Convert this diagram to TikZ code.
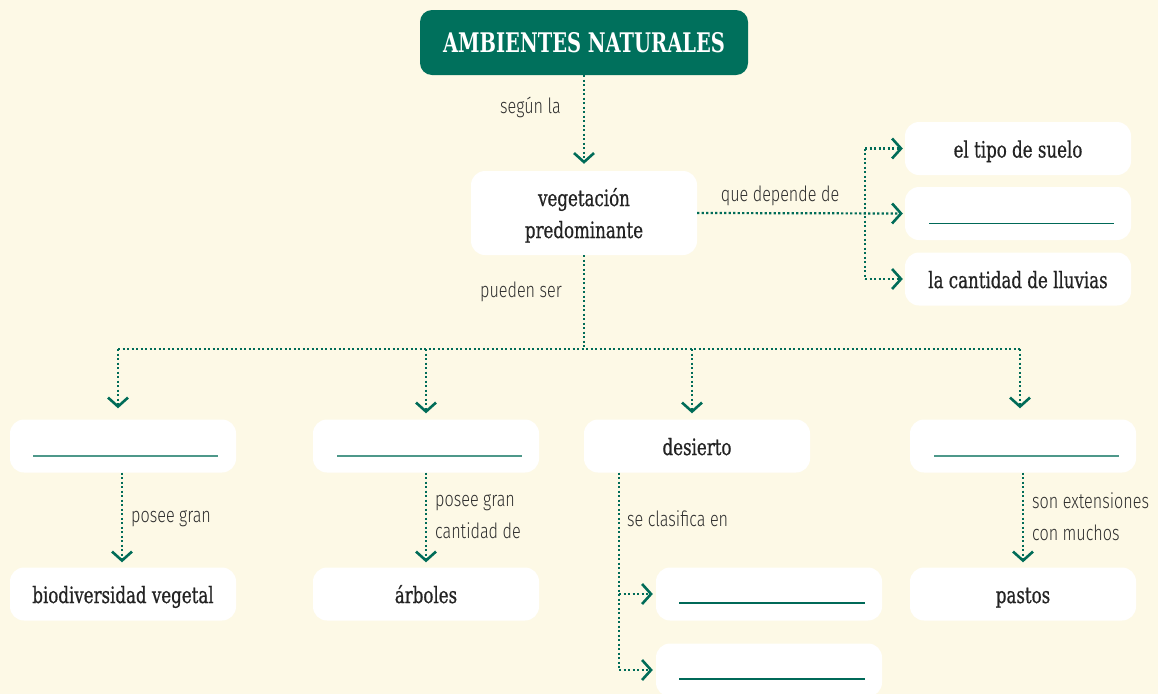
\documentclass[tikz,border=0pt]{standalone}
\usepackage{fontspec}
\usetikzlibrary{arrows.meta}
\newfontfamily\boxfont{DejaVu Serif}[FakeStretch=0.74,FakeBold=0.7]
\newfontfamily\titlefont{DejaVu Serif}[FakeStretch=0.72]
\newfontfamily\labfont{Fira Sans}[UprightFont={* Light},FakeStretch=0.77]
\definecolor{bg}{RGB}{253,249,230}
\definecolor{dkgreen}{RGB}{0,112,92}
\definecolor{conncol}{RGB}{0,108,88}
\definecolor{blankA}{RGB}{78,152,138}
\definecolor{blankB}{RGB}{0,105,88}
\definecolor{txt}{RGB}{35,35,35}
\definecolor{labtxt}{RGB}{45,45,45}
\tikzset{
  box/.style={fill=white, rounded corners=14pt, minimum width=226pt, minimum height=53pt,
    inner sep=0pt, font=\boxfont\fontsize{22.5}{32}\selectfont, text=txt, align=center,
    text height=22pt, text depth=4pt},
  twoline/.style={text height=, text depth=0pt},
  titlebox/.style={fill=dkgreen, rounded corners=12pt, minimum width=328pt, minimum height=65pt,
    inner sep=0pt, font=\titlefont\bfseries\fontsize{27}{30}\selectfont, text=white},
  dots/.style={draw=conncol, line width=2.2pt, dash pattern=on 2.2pt off 2.3pt},
  conn/.style={dots, -{Straight Barb[length=9pt,width=20pt,line width=2.6pt]}},
  lab/.style={font=\labfont\fontsize{21}{32}\selectfont, text=labtxt, inner sep=0pt, align=left},
  blank/.style={line width=1.6pt, draw=blankA},
  blankd/.style={line width=1.6pt, draw=blankB},
}
\begin{document}
\begin{tikzpicture}[x=1pt,y=-1pt]
\fill[bg] (0,0) rectangle (1158,694);
\useasboundingbox (0,0) rectangle (1158,694);
\begin{scope}
\clip (0,0) rectangle (1158,694);
% nodes
\node[titlebox] (title) at (584,42.5) {AMBIENTES NATURALES};
\node[box, twoline, minimum height=84pt] (veg) at (584,213) {vegetación\\predominante};
\node[box] (r1) at (1018,148.5) {el tipo de suelo};
\node[box] (r2) at (1018,213.5) {};
\node[box] (r3) at (1018,279) {la cantidad de lluvias};
\node[box] (A) at (123,446) {};
\node[box] (B) at (426,446) {};
\node[box] (C) at (697,446) {desierto};
\node[box] (D) at (1023,446) {};
\node[box] (A2) at (123,594) {biodiversidad vegetal};
\node[box] (B2) at (426,594) {árboles};
\node[box] (C2) at (769,594) {};
\node[box] (C3) at (769,670) {};
\node[box] (D2) at (1023,594) {pastos};
% blanks
\draw[blankd] ([xshift=-89pt,yshift=-10pt]r2.center) -- ([xshift=96pt,yshift=-10pt]r2.center);
\draw[blank] ([xshift=-90pt,yshift=-10pt]A.center) -- ([xshift=95pt,yshift=-10pt]A.center);
\draw[blank] ([xshift=-89pt,yshift=-10pt]B.center) -- ([xshift=96pt,yshift=-10pt]B.center);
\draw[blank] ([xshift=-89pt,yshift=-10pt]D.center) -- ([xshift=96pt,yshift=-10pt]D.center);
\draw[blankd] ([xshift=-90pt,yshift=-9pt]C2.center) -- ([xshift=96pt,yshift=-9pt]C2.center);
\draw[blankd] ([xshift=-90pt,yshift=-9pt]C3.center) -- ([xshift=96pt,yshift=-9pt]C3.center);
% connectors
\draw[conn, shorten >=7pt] (title.south) -- (veg.north);
\node[lab, anchor=east] (l1) at (561,107) {según la};
\coordinate (jr) at (865,0);
\draw[conn, shorten >=2pt] (veg.east) -- (r2.west);
\draw[dots] (jr |- r1.west) -- (jr |- r3.west);
\draw[conn, shorten >=2pt] (jr |- r1.west) -- (r1.west);
\draw[conn, shorten >=2pt] (jr |- r3.west) -- (r3.west);
\node[lab] (l2) at (780,196) {que depende de};
\coordinate (hub) at (584,349);
\draw[dots] (veg.south) -- (hub);
\node[lab] (l3) at (521,292) {pueden ser};
\coordinate (bA) at (118,349);
\coordinate (bB) at (426,349);
\coordinate (bC) at (692,349);
\coordinate (bD) at (1020,349);
\draw[dots] (bA) -- (bD);
\draw[conn, shorten >=11pt] (bA) -- (bA |- A.north);
\draw[conn, shorten >=6pt] (bB) -- (bB |- B.north);
\draw[conn, shorten >=6pt] (bC) -- (bC |- C.north);
\draw[conn, shorten >=11pt] (bD) -- (bD |- D.north);
% second level
\draw[conn, shorten >=5pt] ([xshift=-1pt]A.south) -- ([xshift=-1pt]A2.north);
\node[lab, anchor=west] (l4) at (131,519) {posee gran};
\draw[conn, shorten >=5pt] (B.south) -- (B2.north);
\node[lab, anchor=west] (l5) at (435,517) {posee gran\\cantidad de};
\coordinate (cj) at (619,0);
\draw[dots] (cj |- C.south) -- (cj |- C3.west);
\draw[conn, shorten >=3pt] (cj |- C2.west) -- (C2.west);
\draw[conn, shorten >=3pt] (cj |- C3.west) -- (C3.west);
\node[lab, anchor=west] (l6) at (627,519) {se clasifica en};
\draw[conn, shorten >=5pt] (D.south) -- (D2.north);
\node[lab, anchor=west] (l7) at (1032,517) {son extensiones\\con muchos};
\end{scope}
\end{tikzpicture}
\end{document}
